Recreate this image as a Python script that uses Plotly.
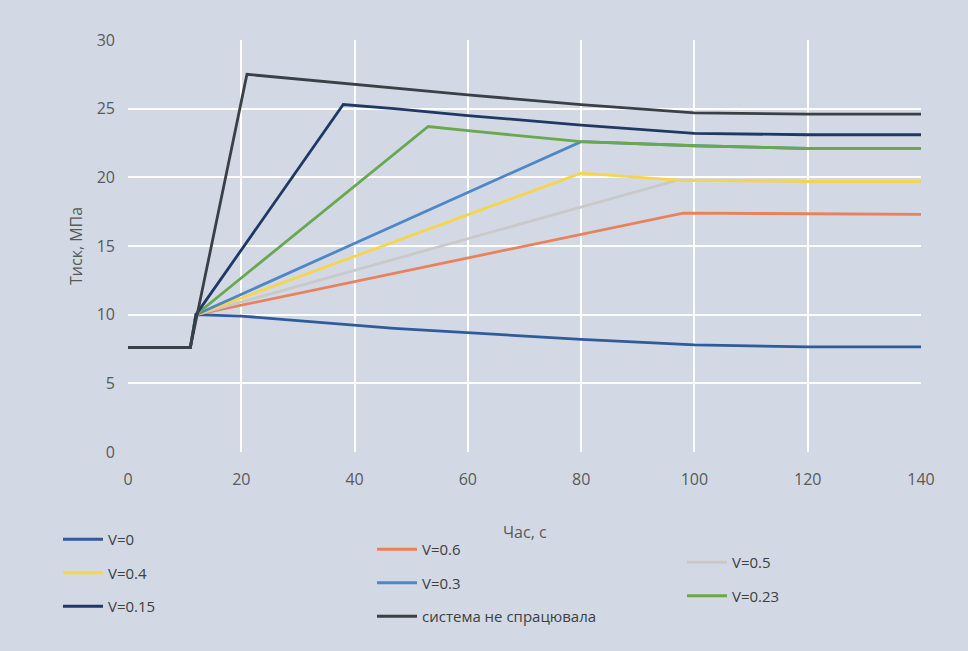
import plotly.graph_objects as go

# ---- data ----
names = ["V=0", "V=0.6", "V=0.5", "V=0.4", "V=0.3", "V=0.23", "V=0.15", "система не спрацювала"]

x_v0 = [0, 11, 12, 20, 47, 60, 80, 100, 120, 140]
y_v0 = [7.6, 7.6, 10.0, 9.9, 9.0, 8.7, 8.2, 7.8, 7.65, 7.65]

x_v06 = [0, 11, 12, 56, 98, 120, 140]
y_v06 = [7.6, 7.6, 10.0, 13.8, 17.4, 17.35, 17.3]

x_v05 = [0, 11, 12, 97, 120, 140]
y_v05 = [7.6, 7.6, 10.0, 19.8, 19.7, 19.7]

x_v04 = [0, 11, 12, 80, 97, 120, 140]
y_v04 = [7.6, 7.6, 10.0, 20.3, 19.8, 19.7, 19.7]

x_v03 = [0, 11, 12, 80, 100, 120, 140]
y_v03 = [7.6, 7.6, 10.0, 22.6, 22.3, 22.1, 22.1]

x_v023 = [0, 11, 12, 53, 60, 80, 100, 120, 140]
y_v023 = [7.6, 7.6, 10.0, 23.7, 23.4, 22.6, 22.3, 22.1, 22.1]

x_v015 = [0, 11, 12, 38, 47, 60, 80, 100, 120, 140]
y_v015 = [7.6, 7.6, 10.0, 25.3, 25.0, 24.5, 23.8, 23.2, 23.1, 23.1]

x_sys = [0, 11, 21, 47, 60, 80, 100, 120, 140]
y_sys = [7.6, 7.6, 27.5, 26.5, 26.0, 25.3, 24.7, 24.6, 24.6]

xs = [x_v0, x_v06, x_v05, x_v04, x_v03, x_v023, x_v015, x_sys]
ys = [y_v0, y_v06, y_v05, y_v04, y_v03, y_v023, y_v015, y_sys]
colors = ["#2e5b9a", "#e8825a", "#c9c9c9", "#f7d54a", "#4f86c6", "#6aa84f", "#1f3864", "#3b3f46"]
legend_ids = ["legend", "legend2", "legend3", "legend", "legend2", "legend3", "legend", "legend2"]

x_ticks = [0, 20, 40, 60, 80, 100, 120, 140]
y_ticks = [0, 5, 10, 15, 20, 25, 30]

x_title = "Час, с"
y_title = "Тиск, МПа"

BG = "#d2d9e5"
FONT = "Open Sans"
TXT = "#595959"

fig = go.Figure()
for i in range(len(names)):
    fig.add_trace(go.Scatter(
        x=xs[i], y=ys[i], mode="lines", name=names[i],
        line=dict(color=colors[i], width=2.8),
        legend=legend_ids[i], legendgroup=names[i],
        hoverinfo="skip",
    ))

legend_common = dict(
    xref="container", yref="container", xanchor="left", yanchor="top",
    bgcolor="rgba(0,0,0,0)", font=dict(family=FONT, size=15, color="#404040"),
    tracegroupgap=11, itemwidth=40, orientation="v",
)

# plot area: x 128..921 px, y 40..452 px
fig.update_layout(
    width=968, height=651,
    paper_bgcolor=BG, plot_bgcolor=BG,
    margin=dict(l=128, r=47, t=40, b=199, autoexpand=False),
    font=dict(family=FONT, color=TXT),
    showlegend=True,
    legend=dict(x=58 / 968, y=1 - 523 / 651, **legend_common),
    legend2=dict(x=372 / 968, y=1 - 533 / 651, **legend_common),
    legend3=dict(x=682 / 968, y=1 - 546 / 651, **legend_common),
    xaxis=dict(
        range=[0, 140], tickvals=x_ticks, showgrid=True, gridcolor="white", gridwidth=2,
        zeroline=False, showline=False, ticks="", ticklabelstandoff=16,
        tickfont=dict(family=FONT, size=16, color=TXT),
    ),
    yaxis=dict(
        range=[0, 30], tickvals=y_ticks, showgrid=True, gridcolor="white", gridwidth=2,
        zeroline=False, showline=False, ticks="", ticklabelstandoff=12,
        tickfont=dict(family=FONT, size=16, color=TXT),
    ),
    annotations=[
        dict(text=x_title, xref="paper", yref="paper", x=0.5, y=(452 - 532) / 412,
             xanchor="center", yanchor="middle", showarrow=False,
             font=dict(family=FONT, size=16, color=TXT)),
        dict(text=y_title, xref="paper", yref="paper", x=(76 - 128) / 793, y=0.5,
             xanchor="center", yanchor="middle", showarrow=False, textangle=-90,
             font=dict(family=FONT, size=16, color=TXT)),
    ],
)

fig.write_html("out.html")
